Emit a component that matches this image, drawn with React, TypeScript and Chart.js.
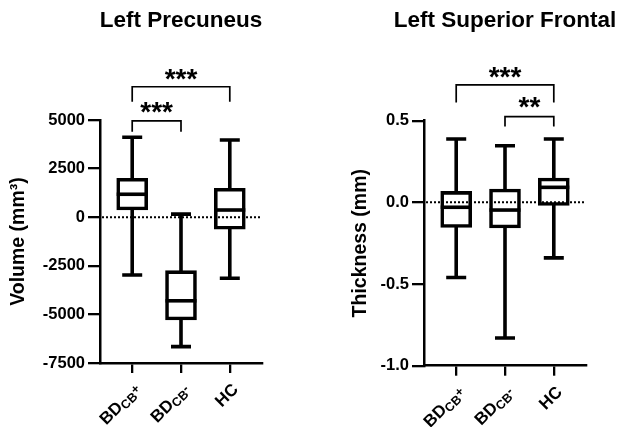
import React, { useEffect, useRef } from 'react';
import { Chart, registerables } from 'chart.js';

Chart.register(...registerables);

const FONT = '"Liberation Sans", Arial, Helvetica, sans-serif';

// Category labels: main text, subscript, raised sign
const labelMain = ['BD', 'BD', 'HC'];
const labelSub = ['CB', 'CB', ''];
const labelSup = ['+', '-', ''];

// Left Precuneus (volume, mm3): whisker min, Q1, median, Q3, whisker max
const precMin = [-2970, -6660, -3140];
const precQ1 = [370, -5290, -620];
const precMedian = [1180, -4300, 370];
const precQ3 = [2000, -2750, 1490];
const precMax = [4110, 160, 3970];
const precTicks = [5000, 2500, 0, -2500, -5000, -7500];

// Left Superior Frontal (thickness, mm)
const frontMin = [-0.46, -0.83, -0.34];
const frontQ1 = [-0.154, -0.157, -0.019];
const frontMedian = [-0.03, -0.047, 0.092];
const frontQ3 = [0.067, 0.082, 0.149];
const frontMax = [0.388, 0.347, 0.388];
const frontTicks = [0.5, 0.0, -0.5, -1.0];

// Significance brackets (in data units of each panel)
const precBrackets = [
  { from: 0, to: 2, top: 6710, leg: 5940, textAt: 7360, label: '***' },
  { from: 0, to: 1, top: 4950, leg: 4400, textAt: 5660, label: '***' },
];
const frontBrackets = [
  { from: 0, to: 2, top: 0.719, leg: 0.611, textAt: 0.795, label: '***' },
  { from: 1, to: 2, top: 0.525, leg: 0.464, textAt: 0.609, label: '**' },
];

type Bracket = { from: number; to: number; top: number; leg: number; textAt: number; label: string };

interface PanelCfg {
  title: string;
  yTitle: string;
  min: number;
  max: number;
  ticks: number[];
  fmt: (v: number) => string;
  lo: number[];
  q1: number[];
  med: number[];
  q3: number[];
  hi: number[];
  brackets: Bracket[];
  yWidth: number;
  padTop: number;
  padRight: number;
  xHeight: number;
  yTitlePad: number;
}

const precCfg: PanelCfg = {
  title: 'Left Precuneus',
  yTitle: 'Volume (mm³)',
  min: -7500,
  max: 5000,
  ticks: precTicks,
  fmt: (v) => String(v),
  lo: precMin,
  q1: precQ1,
  med: precMedian,
  q3: precQ3,
  hi: precMax,
  brackets: precBrackets,
  yWidth: 100,
  padTop: 120,
  padRight: 48,
  xHeight: 64,
  yTitlePad: 7.3,
};

const frontCfg: PanelCfg = {
  title: 'Left Superior Frontal',
  yTitle: 'Thickness (mm)',
  min: -1,
  max: 0.5,
  ticks: frontTicks,
  fmt: (v) => v.toFixed(1),
  lo: frontMin,
  q1: frontQ1,
  med: frontMedian,
  q3: frontQ3,
  hi: frontMax,
  brackets: frontBrackets,
  yWidth: 114,
  padTop: 120.7,
  padRight: 34,
  xHeight: 61.3,
  yTitlePad: 39.1,
};

const LINE = 3.6;
const BOX_W = 31;
const CAP_HALF = 10;

function makePlugin(cfg: PanelCfg) {
  return {
    id: 'boxExtras',
    beforeDatasetsDraw(chart: any) {
      const { ctx } = chart;
      const x = chart.scales.x;
      const y = chart.scales.y;
      ctx.save();
      ctx.strokeStyle = '#000';
      ctx.lineWidth = LINE;
      ctx.lineCap = 'butt';
      for (let i = 0; i < cfg.lo.length; i++) {
        const cx = x.getPixelForValue(i);
        const yl = y.getPixelForValue(cfg.lo[i]);
        const yh = y.getPixelForValue(cfg.hi[i]);
        ctx.beginPath();
        ctx.moveTo(cx, yl);
        ctx.lineTo(cx, yh);
        ctx.moveTo(cx - CAP_HALF, yl);
        ctx.lineTo(cx + CAP_HALF, yl);
        ctx.moveTo(cx - CAP_HALF, yh);
        ctx.lineTo(cx + CAP_HALF, yh);
        ctx.stroke();
      }
      ctx.restore();
    },
    afterDatasetsDraw(chart: any) {
      const { ctx, chartArea } = chart;
      const x = chart.scales.x;
      const y = chart.scales.y;
      ctx.save();
      ctx.strokeStyle = '#000';
      ctx.lineWidth = LINE;
      for (let i = 0; i < cfg.med.length; i++) {
        const cx = x.getPixelForValue(i);
        const ym = y.getPixelForValue(cfg.med[i]);
        ctx.beginPath();
        ctx.moveTo(cx - BOX_W / 2, ym);
        ctx.lineTo(cx + BOX_W / 2, ym);
        ctx.stroke();
      }
      // dotted zero line
      const y0 = y.getPixelForValue(0);
      ctx.lineWidth = 2;
      ctx.setLineDash([2, 2]);
      ctx.beginPath();
      ctx.moveTo(chartArea.left + 2, y0);
      ctx.lineTo(chartArea.right, y0);
      ctx.stroke();
      ctx.restore();
    },
    afterDraw(chart: any) {
      const { ctx, chartArea } = chart;
      const x = chart.scales.x;
      const y = chart.scales.y;
      ctx.save();
      ctx.fillStyle = '#000';
      ctx.strokeStyle = '#000';
      // title
      ctx.font = `bold 22.5px ${FONT}`;
      ctx.textAlign = 'center';
      ctx.textBaseline = 'alphabetic';
      ctx.fillText(cfg.title, (chartArea.left + chartArea.right) / 2, 27);

      // brackets
      ctx.lineWidth = 1.7;
      ctx.lineJoin = 'miter';
      for (const b of cfg.brackets) {
        const x0 = x.getPixelForValue(b.from);
        const x1 = x.getPixelForValue(b.to);
        const yt = y.getPixelForValue(b.top);
        const yl = y.getPixelForValue(b.leg);
        ctx.beginPath();
        ctx.moveTo(x0, yl);
        ctx.lineTo(x0, yt);
        ctx.lineTo(x1, yt);
        ctx.lineTo(x1, yl);
        ctx.stroke();
        ctx.font = `bold 28px ${FONT}`;
        ctx.textAlign = 'center';
        ctx.textBaseline = 'alphabetic';
        const m = ctx.measureText(b.label);
        const yc = y.getPixelForValue(b.textAt);
        ctx.fillText(b.label, (x0 + x1) / 2, yc + (m.actualBoundingBoxAscent - m.actualBoundingBoxDescent) / 2);
      }

      // rotated category labels
      const mainFont = `bold 17px ${FONT}`;
      const subFont = `bold 12.5px ${FONT}`;
      for (let i = 0; i < labelMain.length; i++) {
        const tx = x.getPixelForValue(i) + 6;
        const ty = chartArea.bottom + 24;
        ctx.save();
        ctx.translate(tx, ty);
        ctx.rotate(-Math.PI / 4);
        ctx.textAlign = 'left';
        ctx.textBaseline = 'middle';
        ctx.font = mainFont;
        const wm = ctx.measureText(labelMain[i]).width;
        ctx.font = subFont;
        const ws = ctx.measureText(labelSub[i]).width;
        const wp = ctx.measureText(labelSup[i]).width;
        let cx = -(wm + ws + wp);
        ctx.font = mainFont;
        ctx.fillText(labelMain[i], cx, 0);
        cx += wm;
        ctx.font = subFont;
        ctx.fillText(labelSub[i], cx, 4);
        cx += ws;
        ctx.fillText(labelSup[i], cx, 0);
        ctx.restore();
      }
      ctx.restore();
    },
  };
}

function Panel({ cfg }: { cfg: PanelCfg }) {
  const ref = useRef<HTMLCanvasElement>(null);
  useEffect(() => {
    const canvas = ref.current;
    if (!canvas) return;
    const chart = new Chart(canvas, {
      type: 'bar',
      data: {
        datasets: [
          {
            data: cfg.q1.map((v, i) => ({ x: i, y: [v, cfg.q3[i]] })) as any,
            backgroundColor: '#fff',
            borderColor: '#000',
            borderWidth: LINE,
            borderSkipped: false,
            barThickness: BOX_W,
          } as any,
        ],
      },
      plugins: [makePlugin(cfg)],
      options: {
        responsive: false,
        animation: false,
        devicePixelRatio: 1,
        events: [],
        layout: { padding: { top: cfg.padTop, right: cfg.padRight, left: 0, bottom: 0 } },
        plugins: { legend: { display: false }, tooltip: { enabled: false }, title: { display: false } },
        scales: {
          x: {
            type: 'linear',
            min: -0.66,
            max: 2.66,
            offset: false,
            afterBuildTicks: (s: any) => {
              s.ticks = labelMain.map((_, i) => ({ value: i }));
            },
            afterFit: (s: any) => {
              s.height = cfg.xHeight;
            },
            ticks: { display: false },
            grid: {
              offset: false,
              drawOnChartArea: false,
              drawTicks: true,
              tickLength: 10,
              color: '#000',
              lineWidth: 2.3,
            },
            border: { display: true, color: '#000', width: 2.5 },
          },
          y: {
            type: 'linear',
            min: cfg.min,
            max: cfg.max,
            afterBuildTicks: (s: any) => {
              s.ticks = cfg.ticks.map((v) => ({ value: v }));
            },
            afterFit: (s: any) => {
              s.width = cfg.yWidth;
            },
            ticks: {
              color: '#000',
              padding: 3,
              font: { family: FONT, size: 16.5, weight: 'bold' },
              callback: (v: any) => cfg.fmt(Number(v)),
            },
            grid: {
              drawOnChartArea: false,
              drawTicks: true,
              tickLength: 12,
              color: '#000',
              lineWidth: 2.3,
            },
            border: { display: true, color: '#000', width: 2.5 },
            title: {
              display: true,
              text: cfg.yTitle,
              color: '#000',
              font: { family: FONT, size: 19.5, weight: 'bold' },
              padding: { top: cfg.yTitlePad, bottom: 0 },
            },
          },
        },
      } as any,
    });
    return () => chart.destroy();
  }, [cfg]);
  return <canvas ref={ref} width={310} height={427} style={{ display: 'block', width: 310, height: 427 }} />;
}

export default function App() {
  return (
    <div
      style={{
        position: 'absolute',
        left: 0,
        top: 0,
        width: 620,
        height: 427,
        display: 'flex',
        background: '#fff',
      }}
    >
      <Panel cfg={precCfg} />
      <Panel cfg={frontCfg} />
    </div>
  );
}
